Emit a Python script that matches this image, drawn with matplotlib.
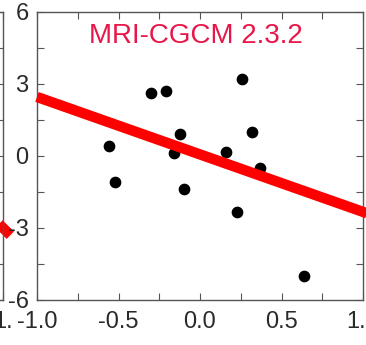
import matplotlib
matplotlib.use("Agg")
import matplotlib.pyplot as plt
from matplotlib.ticker import MultipleLocator

plt.rcParams['font.family'] = ['Liberation Sans', 'DejaVu Sans']

# scatter points
x_pts = [-0.30, -0.21, 0.26, -0.56, -0.52, -0.12, -0.16, 0.16, 0.32, 0.37, -0.10, 0.23, 0.64]
y_pts = [2.63, 2.71, 3.20, 0.40, -1.10, 0.92, 0.12, 0.15, 1.02, -0.48, -1.38, -2.33, -5.00]

# regression line end points
fit_x = [-1.0, 1.03]
fit_y = [2.46, -2.40]

# neighbour panel's line (only its tail shows)
nb_x = [0.6, 1.045]
nb_y = [-0.3, -3.3]

title = "MRI-CGCM 2.3.2"
xticks = [-1.0, -0.5, 0.0, 0.5, 1.0]
xlabels = ["-1.0", "-0.5", "0.0", "0.5", "1.0"]
nb_xlabels = ["-1.0", "-0.5", "0.0", "0.5", "1."]
yticks = [-6, -3, 0, 3, 6]
ylabels = ["-6", "-3", "0", "3", "6"]

W, H = 366, 345
fig = plt.figure(figsize=(W / 100, H / 100), dpi=100)

def style(ax, xl, xmax):
    ax.set_xlim(-1.0, xmax)
    ax.set_ylim(-6, 6)
    ax.set_xticks(xticks)
    ax.set_yticks(yticks)
    ax.set_xticklabels(xl)
    ax.set_yticklabels(ylabels)
    ax.xaxis.set_minor_locator(MultipleLocator(0.25))
    ax.yaxis.set_minor_locator(MultipleLocator(1.5))
    ax.tick_params(which='both', direction='in', top=True, right=True,
                   length=5, width=0.8, color='#555555')
    ax.tick_params(axis='x', labelsize=17, pad=8, labelcolor='#2a2a2a')
    ax.tick_params(axis='y', labelsize=17, pad=6, labelcolor='#2a2a2a')
    for s in ax.spines.values():
        s.set_color('#555555')
        s.set_linewidth(1.0)

# neighbour panel on the left, almost fully cut off
ax0 = fig.add_axes([(3 - 326) / W, 45 / H, 326 / W, 288 / H])
style(ax0, nb_xlabels, 1.0)
ax0.plot(nb_x, nb_y, color='#ff0000', lw=7.5, solid_capstyle='butt', clip_on=False)

ax = fig.add_axes([37 / W, 45 / H, 326 / W, 288 / H])
style(ax, xlabels, 0.98)
ax.scatter(x_pts, y_pts, s=55, color='black', zorder=3)
ax.plot(fit_x, fit_y, color='#ff0000', lw=7.5, solid_capstyle='butt', clip_on=False, zorder=4)
ax.text(0.488, 0.915, title, transform=ax.transAxes, ha='center', va='center',
        color='#e8174a', fontsize=20)

fig.savefig("out.png", dpi=100)
